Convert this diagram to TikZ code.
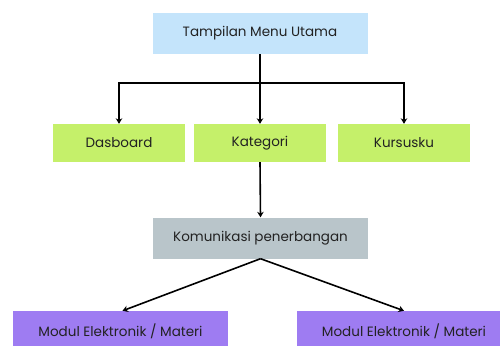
\documentclass[tikz,border=0pt]{standalone}
\usepackage{fontspec}
\setmainfont{Poppins}
\usetikzlibrary{arrows.meta}
\definecolor{topblue}{HTML}{C4E4FB}
\definecolor{limegreen}{HTML}{C5F06A}
\definecolor{slategray}{HTML}{B9C5CA}
\definecolor{lavender}{HTML}{9E7CF2}
\definecolor{txt}{HTML}{222222}
\tikzset{
  box/.style={rectangle, inner sep=0pt, text=txt, font=\fontsize{13.5}{16}\selectfont},
  arr/.style={draw=black, line width=1.6pt, -{Stealth[length=5.5pt,width=6.5pt]}},
}
\begin{document}
\begin{tikzpicture}[x=1pt,y=-1pt]
\useasboundingbox (0,0) rectangle (500,345);
\clip (0,0) rectangle (500,345);
\node[box, fill=topblue, minimum width=215pt, minimum height=41pt] (top) at (260,33.5) {Tampilan Menu Utama};
\node[box, fill=limegreen, minimum width=132pt, minimum height=38pt] (dash) at (119,143) {Dasboard};
\node[box, fill=limegreen, minimum width=132pt, minimum height=38pt] (kat) at (260,143) {Kategori};
\node[box, fill=limegreen, minimum width=132pt, minimum height=38pt] (kurs) at (404,143) {Kursusku};
\node[box, fill=slategray, minimum width=215pt, minimum height=41pt] (kom) at (260.5,238) {Komunikasi penerbangan};
\node[box, fill=lavender, minimum width=215pt, minimum height=40pt] (m1) at (120.5,331) {Modul Elektronik / Materi};
\node[box, fill=lavender, minimum width=215pt, minimum height=40pt] (m2) at (404,331) {Modul Elektronik / Materi};
\coordinate (j) at (260,83);
\draw[line width=1.6pt] (top.south) -- (j);
\draw[line width=1.6pt] (dash.north |- j) -- (kurs.north |- j);
\draw[arr] (j) -- (dash.north |- j) -- (dash.north);
\draw[arr] (j) -- (kurs.north |- j) -- (kurs.north);
\draw[arr] (j) -- (kat.north);
\draw[arr] (kat.south) -- (kom.north);
\draw[arr] (kom.south) -- ([xshift=2pt]m1.north);
\draw[arr] (kom.south) -- (m2.north);
\end{tikzpicture}
\end{document}
